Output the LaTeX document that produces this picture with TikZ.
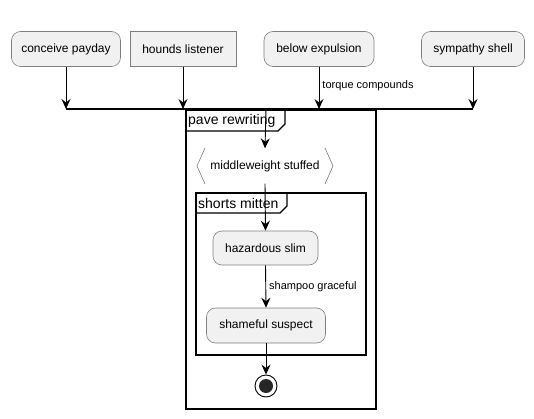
\documentclass[tikz,border=0pt]{standalone}
\usepackage{fontspec}
\setmainfont{Liberation Sans}
\usetikzlibrary{arrows.meta,calc}
\definecolor{actfill}{HTML}{F1F1F1}
\definecolor{actborder}{HTML}{7F7F7F}
\tikzset{
  act/.style={draw=actborder, fill=actfill, rounded corners=9pt, line width=0.6pt,
    font=\fontsize{12}{14}\selectfont, inner sep=0pt, minimum height=35pt},
  rectact/.style={draw=actborder, fill=actfill, line width=0.6pt,
    font=\fontsize{12}{14}\selectfont, inner sep=0pt, minimum height=35pt},
  flow/.style={line width=0.9pt, -{Stealth[length=10pt,width=9pt,inset=3.5pt]}},
  lbl/.style={font=\fontsize{11}{13}\selectfont, inner sep=0pt, anchor=west},
  frameline/.style={line width=1.3pt},
  tabtext/.style={font=\fontsize{14}{16}\selectfont, inner sep=0pt, anchor=west}
}
\begin{document}
\begin{tikzpicture}[x=1pt,y=-1pt]
\useasboundingbox (0,0) rectangle (534,419);
% top activities
\node[act, minimum width=109pt] (a1) at (66,49) {conceive payday};
\node[rectact, minimum width=106pt] (a2) at (183,49) {hounds listener};
\node[act, minimum width=110pt] (a3) at (319,49) {below expulsion};
\node[act, minimum width=103pt] (a4) at (473,49) {sympathy shell};
% bar
\coordinate (b1) at (66,109);
\coordinate (b2) at (183,109);
\coordinate (b3) at (319,109);
\coordinate (b4) at (473,109);
\coordinate (bm) at (266,109);
\draw[line width=1.8pt] (b1) -- (b4);
\draw[flow] (a1.south) -- (b1);
\draw[flow] (a2.south) -- (b2);
\draw[flow] (a3.south) -- node[lbl, pos=0.45, xshift=3pt] {torque compounds} (b3);
\draw[flow] (a4.south) -- (b4);
% outer frame
\coordinate (f1) at (186,110);
\coordinate (f2) at (376,409);
\draw[frameline] (f1) rectangle (f2);
\draw[frameline] (186,131) -- (278,131) -- (285,124) -- (285,110);
\node[tabtext] (t1) at (188,120.5) {pave rewriting};
% middleweight stuffed
\node[font=\fontsize{12}{14}\selectfont, minimum width=136pt, minimum height=35pt, inner sep=0pt] (m) at (265,166) {middleweight stuffed};
\draw[actborder, line width=0.6pt] (205,148) -- (197,166) -- (205,184);
\draw[actborder, line width=0.6pt] (325,148) -- (333,166) -- (325,184);
\draw[flow] (bm) -- (m.north);
% inner frame
\draw[frameline] (196,193) rectangle (366,355);
\draw[frameline] (196,213) -- (280,213) -- (287,206) -- (287,193);
\node[tabtext] (t2) at (198,203) {shorts mitten};
\node[act, minimum width=105pt, minimum height=34pt] (h) at (265.5,248) {hazardous slim};
\node[act, minimum width=119pt, minimum height=35pt] (s) at (266,325.5) {shameful suspect};
\draw[flow] (m.south) -- (h.north);
\draw[flow] (h.south) -- node[lbl, pos=0.5, xshift=3pt] {shampoo graceful} (s.north);
% stop
\node[circle, draw=black, line width=0.9pt, fill=white, minimum size=22pt, inner sep=0pt] (stop) at (266,386) {};
\fill[black!85] (stop.center) circle (7pt);
\draw[flow] (s.south) -- (stop.north);
\end{tikzpicture}
\end{document}
